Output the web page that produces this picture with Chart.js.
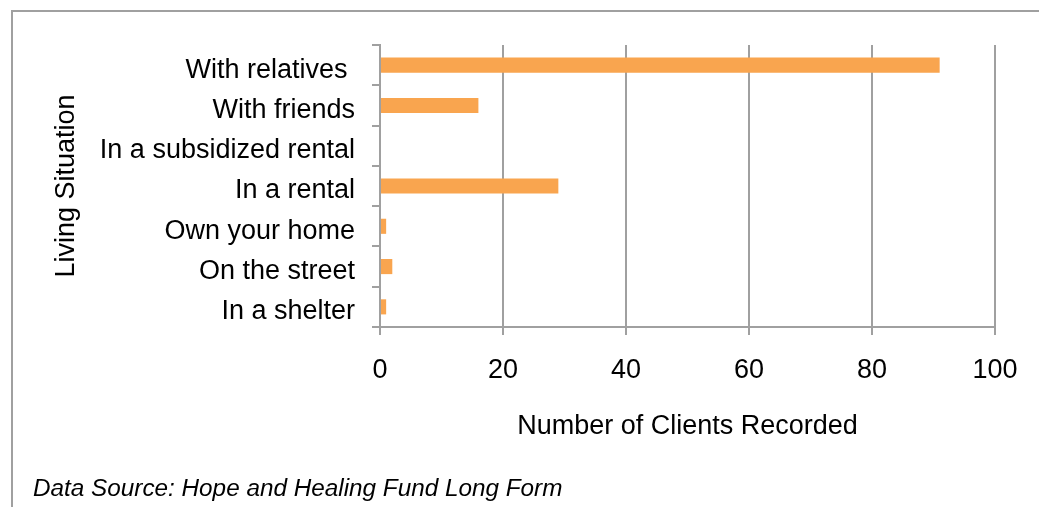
<!DOCTYPE html>
<html>
<head>
<meta charset="utf-8">
<script src="https://cdn.jsdelivr.net/npm/chart.js@4.4.1/dist/chart.umd.min.js"></script>
<style>
  body { margin: 0; background: #fff; }
  #wrap { position: relative; width: 1039px; height: 507px; overflow: hidden; }
  #frame { position: absolute; left: 11px; top: 10px; width: 1100px; height: 600px;
           border-top: 2px solid #a0a0a0; border-left: 2px solid #a0a0a0; }
  #myChart { position: absolute; left: 0; top: 0; }
  #source { position: absolute; left: 33px; top: 474px; font: italic 24.3px "Liberation Sans", Arial, sans-serif;
            color: #000; line-height: 28px; }
</style>
</head>
<body>
<div id="wrap">
  <div id="frame"></div>
  <canvas id="myChart" width="1039" height="507"></canvas>
  <div id="source">Data Source: Hope and Healing Fund Long Form</div>
</div>
<script>
// data
const categories = ['With relatives ', 'With friends', 'In a subsidized rental', 'In a rental', 'Own your home', 'On the street', 'In a shelter'];
const clientCounts = [91, 16, 0, 29, 1, 2, 1];
const xTicks = [0, 20, 40, 60, 80, 100];

const gridColor = '#a0a0a0';
const barColor = '#f9a54f';
const fontFamily = '"Liberation Sans", Arial, sans-serif';

document.addEventListener('DOMContentLoaded', function () {
    const ctx = document.getElementById('myChart').getContext('2d');
    new Chart(ctx, {
        type: 'bar',
        data: {
            labels: categories,
            datasets: [{
                label: 'Number of Clients Recorded',
                data: clientCounts,
                backgroundColor: barColor,
                borderWidth: 0,
                categoryPercentage: 1,
                barPercentage: 0.375
            }]
        },
        options: {
            indexAxis: 'y',
            responsive: false,
            animation: false,
            layout: { padding: { left: 50, top: 45, right: 44, bottom: 64 } },
            plugins: {
                legend: { display: false },
                tooltip: { enabled: false }
            },
            scales: {
                x: {
                    min: 0,
                    max: 100,
                    afterFit: function (scale) { scale.height = 116; },
                    afterBuildTicks: function (scale) {
                        scale.ticks = xTicks.map(v => ({ value: v }));
                    },
                    ticks: {
                        color: '#000',
                        padding: 19,
                        font: { family: fontFamily, size: 27 }
                    },
                    grid: {
                        color: gridColor,
                        lineWidth: 2,
                        tickLength: 8,
                        tickColor: gridColor
                    },
                    border: { display: true, color: gridColor, width: 2 },
                    title: {
                        display: true,
                        text: 'Number of Clients Recorded',
                        color: '#000',
                        padding: 0,
                        font: { family: fontFamily, size: 27 }
                    }
                },
                y: {
                    afterFit: function (scale) { scale.width = 330; },
                    ticks: {
                        color: '#000',
                        padding: 17,
                        labelOffset: 5,
                        font: { family: fontFamily, size: 27 }
                    },
                    grid: {
                        drawOnChartArea: false,
                        offset: true,
                        tickLength: 8,
                        tickColor: gridColor,
                        lineWidth: 2
                    },
                    border: { display: true, color: gridColor, width: 2 },
                    title: {
                        display: true,
                        text: 'Living Situation',
                        color: '#000',
                        padding: 0,
                        font: { family: fontFamily, size: 27 }
                    }
                }
            }
        }
    });
});
</script>
</body>
</html>
